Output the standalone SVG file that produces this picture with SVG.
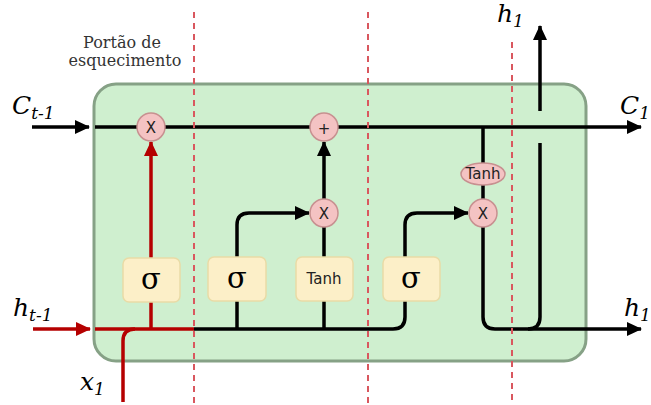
<svg xmlns="http://www.w3.org/2000/svg" width="651" height="405" viewBox="0 0 651 405">
<style>
.ln{fill:none;stroke:#000;stroke-width:3.5}
.rd{fill:none;stroke:#b50000;stroke-width:3.5}
.dash{stroke:#d9575e;stroke-width:2;stroke-dasharray:6,5}
.op{fill:#f4c3c3;stroke:#c79090;stroke-width:1.5}
.gate{fill:#fcefc8;stroke:#e9dba6;stroke-width:1.5}
.sig{font-family:"DejaVu Serif",serif;font-size:29px;text-anchor:middle}
.sm{font-family:"DejaVu Sans",sans-serif;font-size:15px;text-anchor:middle;fill:#222}
.lbl{font-family:"DejaVu Serif",serif;font-style:italic;font-size:25px}
.sub{font-size:17px}
.cap{font-family:"DejaVu Serif",serif;font-size:16px;text-anchor:middle;fill:#333}
</style>
<defs>
<marker id="ab" markerUnits="userSpaceOnUse" markerWidth="16" markerHeight="16" refX="14" refY="8" orient="auto"><path d="M0,1 L15,8 L0,15 Z" fill="#000"/></marker>
<marker id="ar" markerUnits="userSpaceOnUse" markerWidth="16" markerHeight="16" refX="14" refY="8" orient="auto"><path d="M0,1 L15,8 L0,15 Z" fill="#b50000"/></marker>
</defs>
<g id="cell"><rect x="94" y="84" width="492" height="277" rx="22" fill="#cfefcf" stroke="#86a186" stroke-width="3"/></g>
<g id="connectors">
<line class="ln" x1="32" y1="127" x2="89" y2="127" marker-end="url(#ab)"/>
<line class="ln" x1="95" y1="127" x2="641" y2="127" marker-end="url(#ab)"/>
<line class="rd" x1="33" y1="329" x2="90" y2="329" marker-end="url(#ar)"/>
<line class="rd" x1="95" y1="329" x2="194" y2="329"/>
<path class="rd" d="M123,402 V341 Q123,329 135,329"/>
<line class="rd" x1="151" y1="329" x2="151" y2="302"/>
<line class="rd" x1="151" y1="258" x2="151" y2="142" marker-end="url(#ar)"/>
<path class="ln" d="M194,329 H393 Q405,329 405,317 V300"/>
<line class="ln" x1="237" y1="329" x2="237" y2="301"/>
<line class="ln" x1="324" y1="329" x2="324" y2="301"/>
<path class="ln" d="M237,257 V225 Q237,213 249,213 H309" marker-end="url(#ab)"/>
<line class="ln" x1="324" y1="257" x2="324" y2="227"/>
<line class="ln" x1="324" y1="199" x2="324" y2="142" marker-end="url(#ab)"/>
<path class="ln" d="M405,257 V225 Q405,213 417,213 H468" marker-end="url(#ab)"/>
<line class="ln" x1="483" y1="127" x2="483" y2="163"/>
<line class="ln" x1="483" y1="185" x2="483" y2="199"/>
<path class="ln" d="M483,227 V317 Q483,329 495,329 H641" marker-end="url(#ab)"/>
<path class="ln" d="M540,143 V317 Q540,329 528,329"/>
<line class="ln" x1="540" y1="111" x2="540" y2="26" marker-end="url(#ab)"/>
</g>
<g id="dividers">
<line class="dash" x1="194" y1="12" x2="194" y2="405"/>
<line class="dash" x1="368" y1="12" x2="368" y2="405"/>
<line class="dash" x1="512" y1="42" x2="512" y2="405"/>
</g>
<g id="forget-mul"><circle class="op" cx="151" cy="127" r="14"/><text class="sm" x="151" y="132.5">X</text></g>
<g id="add"><circle class="op" cx="324" cy="127" r="14"/><text class="sm" x="324" y="134" font-size="22">+</text></g>
<g id="input-mul"><circle class="op" cx="324" cy="213" r="14"/><text class="sm" x="324" y="218.5">X</text></g>
<g id="output-mul"><circle class="op" cx="483" cy="213" r="14"/><text class="sm" x="483" y="218.5">X</text></g>
<g id="tanh-out"><ellipse class="op" cx="483" cy="174" rx="22" ry="11"/><text class="sm" x="483" y="178.5" font-size="12.5">Tanh</text></g>
<g id="sigma1"><rect class="gate" x="123" y="258" width="57" height="44" rx="6"/><text class="sig" x="151" y="289">σ</text></g>
<g id="sigma2"><rect class="gate" x="208" y="257" width="58" height="44" rx="6"/><text class="sig" x="237" y="288">σ</text></g>
<g id="tanh"><rect class="gate" x="296" y="257" width="57" height="44" rx="6"/><text class="sm" x="324" y="284" font-size="14">Tanh</text></g>
<g id="sigma3"><rect class="gate" x="383" y="257" width="57" height="44" rx="6"/><text class="sig" x="411" y="288">σ</text></g>
<g id="labels">
<text class="cap" x="122" y="48">Portão de</text>
<text class="cap" x="125" y="66">esquecimento</text>
<text class="lbl" x="12" y="114">C<tspan class="sub" dy="5">t-1</tspan></text>
<text class="lbl" x="13" y="316">h<tspan class="sub" dy="5">t-1</tspan></text>
<text class="lbl" x="80" y="390">x<tspan class="sub" dy="5">1</tspan></text>
<text class="lbl" x="497" y="22">h<tspan class="sub" dy="5">1</tspan></text>
<text class="lbl" x="620" y="114">C<tspan class="sub" dy="5">1</tspan></text>
<text class="lbl" x="624" y="316">h<tspan class="sub" dy="5">1</tspan></text>
</g>
</svg>
